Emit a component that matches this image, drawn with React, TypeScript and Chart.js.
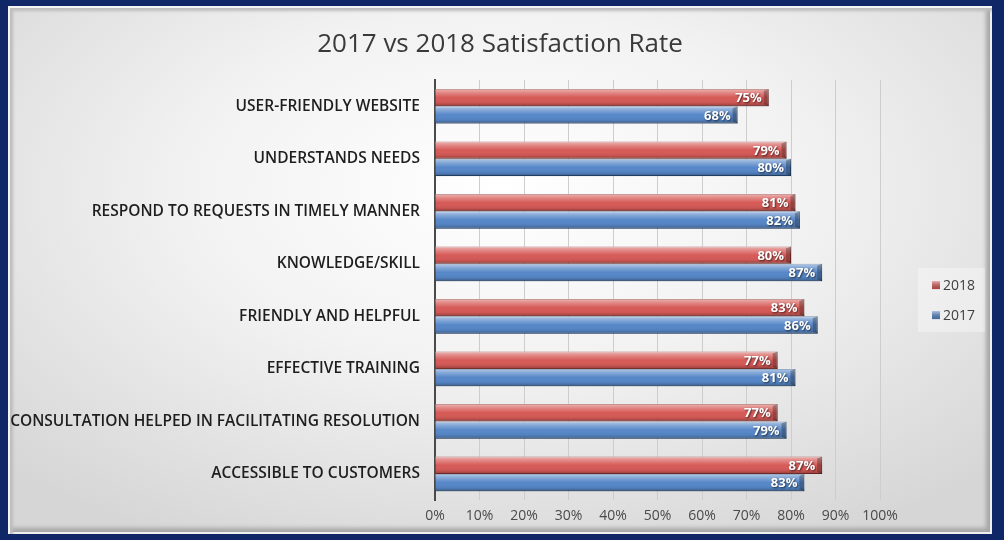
import React, { useEffect, useRef } from "react";
import { Chart, registerables } from "chart.js";

Chart.register(...registerables);

const titleText = "2017 vs 2018 Satisfaction Rate";
const categories = [
  "USER-FRIENDLY WEBSITE",
  "UNDERSTANDS NEEDS",
  "RESPOND TO REQUESTS IN TIMELY MANNER",
  "KNOWLEDGE/SKILL",
  "FRIENDLY AND HELPFUL",
  "EFFECTIVE TRAINING",
  "CONSULTATION HELPED IN FACILITATING RESOLUTION",
  "ACCESSIBLE TO CUSTOMERS",
];
const seriesNames = ["2018", "2017"];
const values2018 = [75, 79, 81, 80, 83, 77, 77, 87];
const values2017 = [68, 80, 82, 87, 86, 81, 79, 83];
const xMin = 0;
const xMax = 100;
const xStep = 10;

const RED = "#d65a57";
const RED_DARK = "#8e2f2c";
const BLUE = "#5687c8";
const BLUE_DARK = "#2e5687";
const FONT = "'Open Sans', 'DejaVu Sans', sans-serif";

const titlePlugin = {
  id: "centeredTitle",
  afterDraw(chart: any) {
    const ctx = chart.ctx as CanvasRenderingContext2D;
    ctx.save();
    ctx.font = `26px ${FONT}`;
    ctx.fillStyle = "#3a3a3a";
    ctx.textAlign = "center";
    ctx.textBaseline = "middle";
    ctx.fillText(titleText, chart.width / 2, 39);
    ctx.restore();
  },
};

const bar3dPlugin = {
  id: "bar3d",
  afterDatasetsDraw(chart: any) {
    const ctx = chart.ctx as CanvasRenderingContext2D;
    chart.data.datasets.forEach((ds: any, di: number) => {
      const meta = chart.getDatasetMeta(di);
      if (meta.hidden) return;
      meta.data.forEach((el: any, i: number) => {
        const p = el.getProps(["x", "y", "base", "height"], true);
        const top = p.y - p.height / 2;
        const bottom = p.y + p.height / 2;
        const left = Math.min(p.base, p.x);
        const right = Math.max(p.base, p.x);
        ctx.save();
        const g = ctx.createLinearGradient(0, top, 0, bottom);
        g.addColorStop(0, "rgba(255,255,255,0.55)");
        g.addColorStop(0.22, "rgba(255,255,255,0.28)");
        g.addColorStop(0.5, "rgba(255,255,255,0.0)");
        g.addColorStop(0.8, "rgba(0,0,0,0.06)");
        g.addColorStop(1, "rgba(0,0,0,0.32)");
        ctx.fillStyle = g;
        ctx.fillRect(left, top, right - left, bottom - top);
        const cap = 5;
        ctx.beginPath();
        ctx.moveTo(right - cap, top + 2);
        ctx.lineTo(right, top);
        ctx.lineTo(right, bottom);
        ctx.lineTo(right - cap, bottom - 2);
        ctx.closePath();
        ctx.fillStyle = "rgba(0,0,0,0.28)";
        ctx.fill();
        ctx.font = `bold 13px ${FONT}`;
        ctx.textAlign = "right";
        ctx.textBaseline = "middle";
        ctx.shadowColor = "rgba(0,0,0,0.65)";
        ctx.shadowBlur = 2;
        ctx.shadowOffsetX = 1;
        ctx.shadowOffsetY = 1;
        ctx.fillStyle = "#ffffff";
        ctx.fillText(`${ds.data[i]}%`, right - 7, p.y + 1);
        ctx.restore();
      });
    });
  },
};

const legendPlugin = {
  id: "sideLegend",
  afterDraw(chart: any) {
    const ctx = chart.ctx as CanvasRenderingContext2D;
    const area = chart.chartArea;
    const cx = (area.top + area.bottom) / 2 + 10;
    const boxLeft = area.right + 38;
    const boxW = 67;
    const boxH = 64;
    ctx.save();
    ctx.fillStyle = "rgba(255,255,255,0.35)";
    ctx.fillRect(boxLeft, cx - boxH / 2, boxW, boxH);
    const spacing = 30;
    chart.data.datasets.forEach((ds: any, i: number) => {
      const y = cx - spacing / 2 + i * spacing;
      const mx = boxLeft + 14;
      const g = ctx.createLinearGradient(0, y - 4, 0, y + 4);
      g.addColorStop(0, "rgba(255,255,255,0.5)");
      g.addColorStop(1, "rgba(0,0,0,0.2)");
      ctx.fillStyle = ds.backgroundColor;
      ctx.fillRect(mx, y - 4, 8, 8);
      ctx.fillStyle = g;
      ctx.fillRect(mx, y - 4, 8, 8);
      ctx.fillStyle = "#404040";
      ctx.font = `14px ${FONT}`;
      ctx.textAlign = "left";
      ctx.textBaseline = "middle";
      ctx.fillText(ds.label, mx + 11, y + 1);
    });
    ctx.restore();
  },
};

export default function App() {
  const ref = useRef<HTMLCanvasElement | null>(null);

  useEffect(() => {
    if (!ref.current) return;
    const chart = new Chart(ref.current, {
      type: "bar",
      data: {
        labels: categories,
        datasets: [
          {
            label: seriesNames[0],
            data: values2018,
            backgroundColor: RED,
            borderColor: RED_DARK,
            borderWidth: 1,
            categoryPercentage: 0.66,
            barPercentage: 1.0,
          },
          {
            label: seriesNames[1],
            data: values2017,
            backgroundColor: BLUE,
            borderColor: BLUE_DARK,
            borderWidth: 1,
            categoryPercentage: 0.66,
            barPercentage: 1.0,
          },
        ],
      },
      plugins: [bar3dPlugin, legendPlugin, titlePlugin],
      options: {
        indexAxis: "y",
        animation: false,
        responsive: false,
        maintainAspectRatio: false,
        layout: { padding: { top: 74, right: 112, bottom: 3, left: 0 } },
        plugins: {
          legend: { display: false },
          tooltip: { enabled: false },
          title: { display: false },
        },
        scales: {
          x: {
            min: xMin,
            max: xMax,
            ticks: {
              stepSize: xStep,
              color: "#4a4a4a",
              font: { family: FONT, size: 14 },
              padding: 7,
              callback: (v: any) => `${v}%`,
            },
            grid: { color: "#cdcdcd", lineWidth: 1, drawTicks: false },
            border: { display: false },
          },
          y: {
            afterFit: (scale: any) => {
              scale.width = 427;
            },
            ticks: {
              color: "#1e1e1e",
              font: { family: FONT, size: 15.5, weight: "600" },
              padding: 15,
            },
            grid: { display: false, drawTicks: false },
            border: { display: true, color: "#4a4a4a", width: 2 },
          },
        },
      },
    });
    return () => chart.destroy();
  }, []);

  return (
    <div
      style={{
        position: "absolute",
        left: 0,
        top: 0,
        width: 1004,
        height: 540,
        background: "#0f2766",
        overflow: "hidden",
      }}
    >
      <div
        style={{
          position: "absolute",
          left: 8,
          top: 6,
          width: 984,
          height: 528,
          background:
            "radial-gradient(ellipse 70% 75% at 50% 35%, #ffffff 0%, #f2f2f2 45%, #d6d6d6 100%)",
          boxShadow:
            "inset 2px 2px 0 #f4f4f4, inset 5px 5px 3px #bdbdbd, inset -2px -2px 0 #efefef, inset -6px -6px 4px #a6a6a6",
        }}
      >
        <canvas ref={ref} width={984} height={528} style={{ display: "block" }} />
      </div>
    </div>
  );
}
